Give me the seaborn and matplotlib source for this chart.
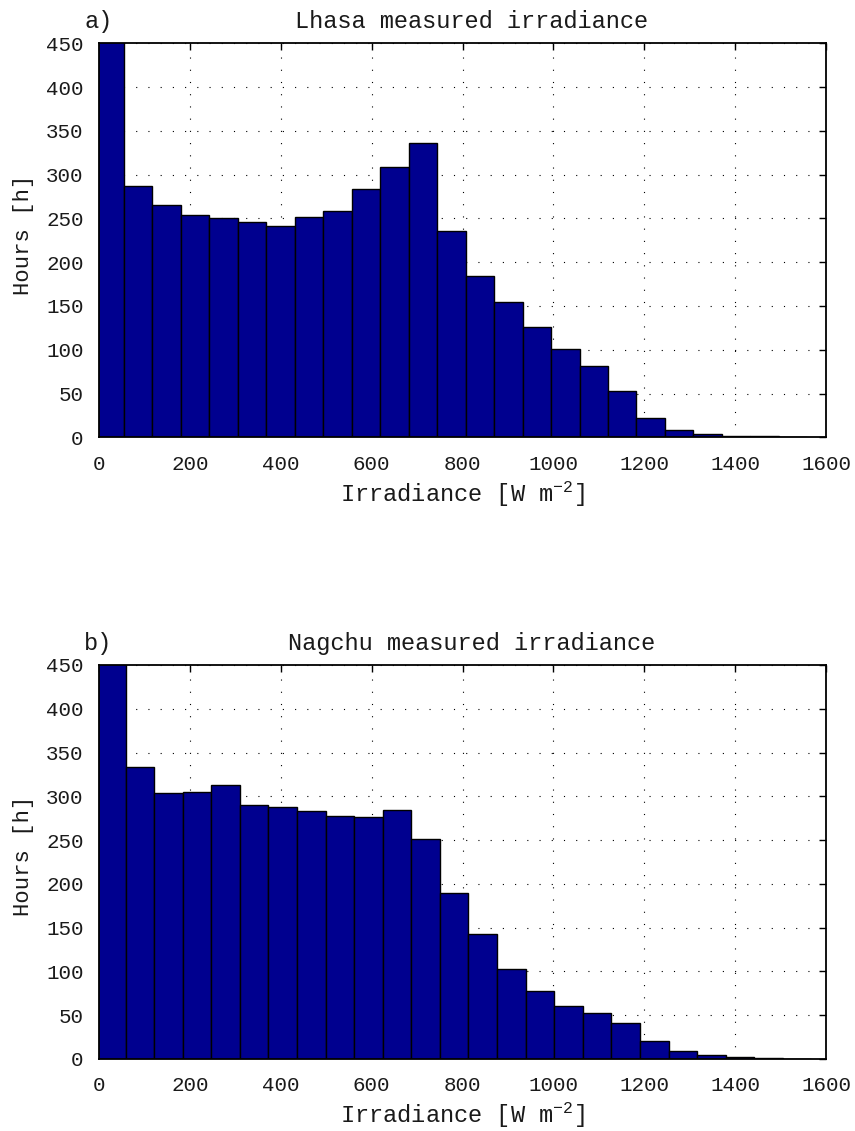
import numpy as np
import pandas as pd
import matplotlib
matplotlib.use("Agg")
import matplotlib.pyplot as plt
import seaborn as sns

# ---------------- data ----------------
lhasa_centers = [23.7, 86.4, 149.1, 211.7, 274.4, 337.0, 399.7, 462.3, 525.0, 587.7,
                 650.3, 713.0, 775.6, 838.3, 900.9, 963.6, 1026.3, 1088.9, 1151.6,
                 1214.2, 1276.9, 1339.6, 1402.2, 1464.9, 1527.5]
lhasa_hours = [520, 287, 265, 254, 251, 246, 241, 252, 258, 284,
               309, 336, 236, 184, 155, 126, 101, 82, 53,
               22, 8, 3.4, 1.9, 1.1, 0.7]

nagchu_centers = [26.9, 89.8, 152.7, 215.6, 278.5, 341.4, 404.3, 467.2, 530.1, 593.0,
                  655.9, 718.8, 781.7, 844.6, 907.5, 970.4, 1033.3, 1096.2, 1159.1,
                  1222.0, 1284.9, 1347.8, 1410.7, 1473.6, 1536.5]
nagchu_hours = [540, 333, 304, 305, 313, 290, 288, 283, 278, 276,
                284, 251, 190, 143, 103, 78, 60, 52, 41,
                20, 9.5, 4.6, 1.9, 0.6, 0]

titles = ["Lhasa measured irradiance", "Nagchu measured irradiance"]
panel_labels = ["a)", "b)"]
x_ticks = [0, 200, 400, 600, 800, 1000, 1200, 1400, 1600]
y_ticks = [0, 50, 100, 150, 200, 250, 300, 350, 400, 450]

# ---------------- style ----------------
sns.set_theme(style="white")
plt.rcParams["font.family"] = ["Liberation Mono", "DejaVu Sans Mono"]
plt.rcParams["mathtext.fontset"] = "custom"
plt.rcParams["mathtext.rm"] = "Liberation Mono"
plt.rcParams["mathtext.it"] = "Liberation Mono"
plt.rcParams["mathtext.default"] = "rm"

fig = plt.figure(figsize=(8.55, 11.31), dpi=100)
ax_a = fig.add_axes([99/855, 1 - 437.3/1131, 727/855, 394/1131])
ax_b = fig.add_axes([99/855, 1 - 1059/1131, 727/855, 394/1131])

TFS = 15   # tick labels
LFS = 17   # axis labels / titles
TXT = "#1a1a1a"
for ax, centers, hours, title, lab in zip(
        [ax_a, ax_b], [lhasa_centers, nagchu_centers], [lhasa_hours, nagchu_hours],
        titles, panel_labels):
    df = pd.DataFrame({"irr": centers, "hours": hours})
    step = (centers[-1] - centers[0]) / (len(centers) - 1)
    rng = (centers[0] - step / 2, centers[-1] + step / 2)
    sns.histplot(data=df, x="irr", weights="hours", bins=len(centers), binrange=rng,
                 color="#00008f", edgecolor="black", linewidth=1.0, alpha=1.0,
                 ax=ax, zorder=2)
    ax.set_xlim(0, 1600)
    ax.set_ylim(0, 450)
    ax.set_xticks(x_ticks)
    ax.set_yticks(y_ticks)
    ax.tick_params(direction="in", length=5, width=1, top=True, right=True,
                   labelsize=TFS, colors="black", labelcolor=TXT)
    ax.tick_params(axis="x", pad=12.5)
    ax.tick_params(axis="y", pad=11)
    ax.grid(True, color="black", linestyle=(0, (1, 10)), linewidth=0.8, zorder=0)
    ax.set_axisbelow(True)
    for s in ax.spines.values():
        s.set_visible(True)
        s.set_color("black")
        s.set_linewidth(1.3)
        s.set_zorder(5)
    ax.set_ylabel("Hours [h]", fontsize=16, labelpad=9, y=0.515, color=TXT)
    ax.set_xlabel("Irradiance [W m$^{-2}$]", fontsize=LFS, labelpad=4, color=TXT)
    ax.set_title(title, fontsize=LFS, pad=10.8, x=0.513, color=TXT)
    ax.annotate(lab, xy=(0, 1), xycoords="axes fraction", xytext=(-10.8, 10.8),
                textcoords="offset points", ha="left", va="baseline", fontsize=LFS,
                color=TXT)

fig.savefig("out.png", dpi=100, facecolor="white")
